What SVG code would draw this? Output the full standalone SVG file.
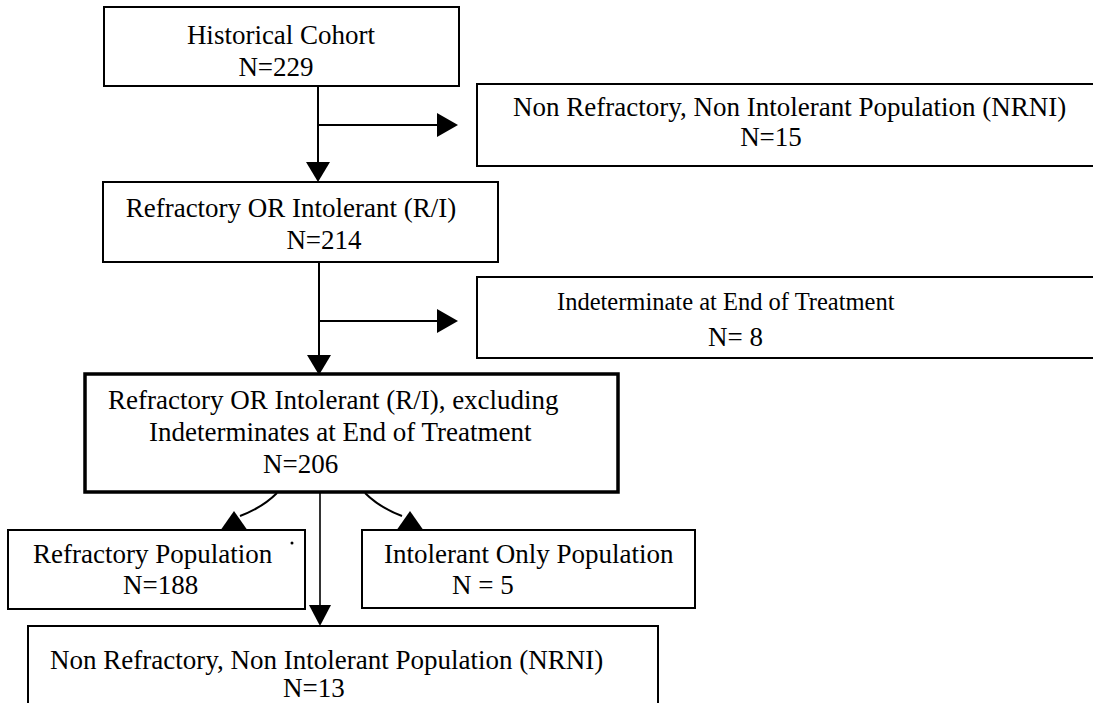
<svg xmlns="http://www.w3.org/2000/svg" width="1093" height="703" viewBox="0 0 1093 703">
<style>
.box{fill:#fff;stroke:#000;stroke-width:2}
.thick{stroke-width:3.5}
.t{font-family:"Liberation Serif","Times New Roman",serif;font-size:27px;fill:#000}
.ln{fill:none;stroke:#000;stroke-width:2}
.ah{fill:#000}
</style>
<rect x="0" y="0" width="1093" height="703" fill="#fff"/>
<g id="connectors">
<line class="ln" x1="318" y1="86" x2="318" y2="165"/>
<polygon class="ah" points="306,162 330,162 318,182"/>
<line class="ln" x1="318" y1="125" x2="440" y2="125"/>
<polygon class="ah" points="437,113 437,137 458,125"/>
<line class="ln" x1="319" y1="262" x2="319" y2="358"/>
<polygon class="ah" points="307,355 331,355 319,375"/>
<line class="ln" x1="319" y1="321" x2="440" y2="321"/>
<polygon class="ah" points="437,309 437,333 458,321"/>
<path class="ln" d="M277,493 C266,504 256,510 240,516"/>
<polygon class="ah" points="220,531 234,511 248,531"/>
<path class="ln" d="M365,493 C376,504 386,510 402,516"/>
<polygon class="ah" points="396,531 410,511 424,531"/>
<line class="ln" x1="320" y1="493" x2="320" y2="608" style="stroke-width:1.6"/>
<polygon class="ah" points="309,605 331,605 320,626"/>
</g>
<g id="n1">
<rect class="box" x="104" y="7" width="355" height="79"/>
<text class="t" x="281" y="44" text-anchor="middle">Historical Cohort</text>
<text class="t" x="276" y="76" text-anchor="middle">N=229</text>
</g>
<g id="n2">
<rect class="box" x="477" y="84" width="640" height="82"/>
<text class="t" x="513" y="116">Non Refractory, Non Intolerant Population (NRNI)</text>
<text class="t" x="771" y="146" text-anchor="middle">N=15</text>
</g>
<g id="n3">
<rect class="box" x="103" y="182" width="395" height="80"/>
<text class="t" x="291" y="217" text-anchor="middle">Refractory OR Intolerant (R/I)</text>
<text class="t" x="324" y="249" text-anchor="middle">N=214</text>
</g>
<g id="n4">
<rect class="box" x="477" y="277" width="640" height="81"/>
<text class="t" x="557" y="310" style="font-size:24.5px">Indeterminate at End of Treatment</text>
<text class="t" x="708" y="346">N= 8</text>
</g>
<g id="n5">
<rect class="box thick" x="85" y="374" width="533" height="118"/>
<text class="t" x="108" y="409">Refractory OR Intolerant (R/I), excluding</text>
<text class="t" x="149" y="441">Indeterminates at End of Treatment</text>
<text class="t" x="263" y="473">N=206</text>
</g>
<g id="n6">
<rect class="box" x="8" y="530" width="297" height="79"/>
<text class="t" x="33" y="563">Refractory Population</text>
<text class="t" x="123" y="594">N=188</text>
<circle cx="292" cy="543" r="1.5" fill="#000"/>
</g>
<g id="n7">
<rect class="box" x="362" y="530" width="333" height="78"/>
<text class="t" x="384" y="563">Intolerant Only Population</text>
<text class="t" x="452" y="594">N = 5</text>
</g>
<g id="n8">
<rect class="box" x="28" y="626" width="630" height="90"/>
<text class="t" x="50" y="669">Non Refractory, Non Intolerant Population (NRNI)</text>
<text class="t" x="283" y="697">N=13</text>
</g>
</svg>
